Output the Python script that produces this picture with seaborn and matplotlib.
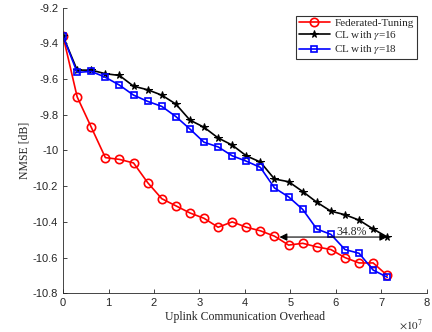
import numpy as np
import pandas as pd
import seaborn as sns
import matplotlib.pyplot as plt

# uplink overhead in units of 1e7
overhead = [0.0, 0.31, 0.62, 0.93, 1.24, 1.55, 1.86, 2.17, 2.48, 2.79, 3.10, 3.41,
            3.72, 4.03, 4.34, 4.65, 4.96, 5.27, 5.58, 5.89, 6.20, 6.51, 6.82, 7.13]

fed_tuning = [-9.36, -9.70, -9.87, -10.04, -10.05, -10.07, -10.18, -10.27, -10.31, -10.35,
              -10.38, -10.43, -10.40, -10.43, -10.45, -10.48, -10.53, -10.52, -10.54, -10.555,
              -10.60, -10.63, -10.63, -10.70]
cl_gamma16 = [-9.36, -9.55, -9.55, -9.57, -9.58, -9.64, -9.66, -9.69, -9.74, -9.83,
              -9.87, -9.93, -9.97, -10.03, -10.065, -10.16, -10.175, -10.23, -10.29, -10.34,
              -10.36, -10.39, -10.44, -10.485]
cl_gamma18 = [-9.36, -9.563, -9.557, -9.59, -9.634, -9.69, -9.725, -9.753, -9.81, -9.88,
              -9.954, -9.98, -10.03, -10.06, -10.095, -10.21, -10.26, -10.33, -10.44, -10.47,
              -10.555, -10.576, -10.67, -10.71]

labels = ["Federated-Tuning", r"CL with $\gamma$=16", r"CL with $\gamma$=18"]

sns.set_style("ticks")
plt.rcParams["font.family"] = ["Liberation Sans", "DejaVu Sans"]
plt.rcParams["mathtext.fontset"] = "stix"

fig = plt.figure(figsize=(4.32, 3.32), dpi=100)
ax = fig.add_axes([0.146, 0.1166, 0.842, 0.8604])

sns.lineplot(x=overhead, y=fed_tuning, ax=ax, color="red", lw=1.2, marker="o",
             markersize=6, markerfacecolor="none", markeredgecolor="red",
             markeredgewidth=1.2, label=labels[0])
sns.lineplot(x=overhead, y=cl_gamma16, ax=ax, color="black", lw=1.2, marker="*",
             markersize=5.5, markerfacecolor="black", markeredgecolor="black",
             label=labels[1])
sns.lineplot(x=overhead, y=cl_gamma18, ax=ax, color="blue", lw=1.2, marker="s",
             markersize=5, markerfacecolor="none", markeredgecolor="blue",
             markeredgewidth=1.2, label=labels[2])

# reduction arrow
ax.annotate("", xy=(4.76, cl_gamma16[-1]), xytext=(overhead[-1], cl_gamma16[-1]),
            arrowprops=dict(arrowstyle="<|-|>", color="black", lw=0.8,
                            mutation_scale=11, shrinkA=0, shrinkB=0))
ax.text(6.35, -10.457, "34.8%", ha="center", va="center", fontsize=8.5,
        family="Liberation Serif")

ax.set_xlim(0, 8)
ax.set_ylim(-10.8, -9.2)
ax.set_xticks(range(0, 9))
ax.set_yticks(np.arange(-10.8, -9.19, 0.2))
ax.set_yticklabels([f"{v:g}" for v in np.round(np.arange(-10.8, -9.19, 0.2), 1)])
ax.tick_params(direction="in", labelsize=8, length=3, width=0.6)
for s in ["top", "right"]:
    ax.spines[s].set_visible(False)
for s in ["left", "bottom"]:
    ax.spines[s].set_linewidth(0.6)

ax.set_xlabel("Uplink Communication Overhead", family="Liberation Serif", fontsize=8.5,
              labelpad=2)
ax.set_ylabel("NMSE [dB]", family="Liberation Serif", fontsize=8.5, labelpad=2)
ax.text(0.99, -0.085, r"$\times10^7$", transform=ax.transAxes, ha="right", va="top",
        fontsize=8, family="Liberation Sans")

leg = ax.legend(loc="upper right", bbox_to_anchor=(0.972, 0.972),
                prop={"family": "Liberation Serif", "size": 8}, frameon=True,
                fancybox=False, edgecolor="black", borderpad=0.25, labelspacing=0.1,
                handlelength=2.8, handletextpad=0.4, borderaxespad=0)
leg.get_frame().set_linewidth(0.8)

fig.savefig("out.png", dpi=100)
